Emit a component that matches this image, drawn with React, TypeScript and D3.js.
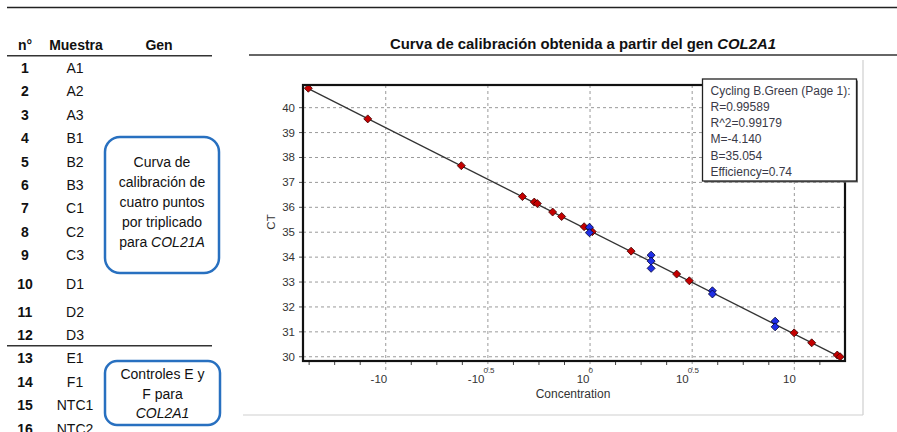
import React from "react";
import * as d3 from "d3";

// ---------- DATA ----------
const tableNumbers = ["1","2","3","4","5","6","7","8","9","10","11","12","13","14","15","16"];
const tableSamples = ["A1","A2","A3","B1","B2","B3","C1","C2","C3","D1","D2","D3","E1","F1","NTC1","NTC2"];

const chartTitle = "Curva de calibración obtenida a partir del gen ";
const chartTitleItalic = "COL2A1";

// standards (red): log10 concentration, CT
const standardLogConc = [-1.379, -1.088, -0.63, -0.331, -0.273, -0.258, -0.183, -0.139, -0.029, 0.011, 0.201, 0.424, 0.486, 0.999, 1.085, 1.21, 1.224];
const standardCT = [40.78, 39.55, 37.67, 36.43, 36.21, 36.15, 35.81, 35.63, 35.22, 35.02, 34.24, 33.32, 33.05, 30.96, 30.56, 30.07, 30.0];

// samples (blue)
const sampleLogConc = [-0.003, -0.003, 0.299, 0.299, 0.299, 0.599, 0.599, 0.906, 0.906];
const sampleCT = [35.2, 34.98, 34.08, 33.84, 33.55, 32.65, 32.52, 31.43, 31.2];

const slopeM = -4.14;
const interceptB = 35.054;

const yTicks = [30, 31, 32, 33, 34, 35, 36, 37, 38, 39, 40];
const xTicks = [-1, -0.5, 0, 0.5, 1];
const xTickBase = ["-10", "-10", "10", "10", "10"];
const xTickExp = ["", "0.5", "0", "0.5", ""];

const legendLines = [
  "Cycling B.Green (Page 1):",
  "R=0.99589",
  "R^2=0.99179",
  "M=-4.140",
  "B=35.054",
  "Efficiency=0.74",
];

// ---------- LAYOUT ----------
const W = 897;
const H = 432;
const plot = { left: 303, right: 845, top: 85, bottom: 361 };
const FONT = "'Liberation Sans', Arial, sans-serif";

const x = d3.scaleLinear().domain([-1.405, 1.248]).range([plot.left, plot.right]);
const y = d3.scaleLinear().domain([29.83, 40.91]).range([plot.bottom, plot.top]);

const rowY = (i: number) => 68 + i * 23.4 + (i >= 10 ? 9.6 : i === 9 ? 5.5 : 0);

function diamond(cx: number, cy: number, r: number) {
  const p = d3.path();
  p.moveTo(cx, cy - r);
  p.lineTo(cx + r, cy);
  p.lineTo(cx, cy + r);
  p.lineTo(cx - r, cy);
  p.closePath();
  return p.toString();
}

export default function App() {
  const minorX = d3.range(-11, 11).map((k) => k * 0.125).filter(
    (v) => v >= -1.405 && v <= 1.248 && !xTicks.some((t) => Math.abs(t - v) < 1e-9)
  );
  const xMin = d3.min(standardLogConc)!;
  const xMax = d3.max(standardLogConc)!;
  const line = d3.line<number>().x((d) => x(d)).y((d) => y(slopeM * d + interceptB));

  const blue = "#2870c0";

  return (
    <svg
      width={W}
      height={H}
      style={{ position: "absolute", left: 0, top: 0, display: "block", background: "#fff" }}
      fontFamily={FONT}
    >
      {/* top rule */}
      <line x1={7} x2={897} y1={7.5} y2={7.5} stroke="#222" strokeWidth={1.5} />

      {/* ---------- LEFT TABLE ---------- */}
      <g fontSize={14} fill="#111">
        <text x={25} y={44.5} textAnchor="middle" dominantBaseline="central" fontWeight="bold">n°</text>
        <text x={76} y={44.5} textAnchor="middle" dominantBaseline="central" fontWeight="bold">Muestra</text>
        <text x={159} y={44.5} textAnchor="middle" dominantBaseline="central" fontWeight="bold">Gen</text>
        <line x1={7} x2={212} y1={55.7} y2={55.7} stroke="#333" strokeWidth={1.5} />
        <line x1={7} x2={212} y1={345.7} y2={345.7} stroke="#333" strokeWidth={1.5} />
        {tableNumbers.map((n, i) => (
          <text key={"n" + i} x={25} y={rowY(i)} textAnchor="middle" dominantBaseline="central" fontWeight="bold">
            {n}
          </text>
        ))}
        {tableSamples.map((s, i) => (
          <text key={"s" + i} x={75} y={rowY(i)} textAnchor="middle" dominantBaseline="central">
            {s}
          </text>
        ))}
        {/* box 1 */}
        <rect x={105} y={137} width={114} height={136} rx={15} ry={15} fill="none" stroke={blue} strokeWidth={2.5} />
        {["Curva de", "calibración de", "cuatro puntos", "por triplicado"].map((t, i) => (
          <text key={"b1" + i} x={162} y={161.7 + i * 20} textAnchor="middle" dominantBaseline="central">{t}</text>
        ))}
        <text x={162} y={241.7} textAnchor="middle" dominantBaseline="central">
          para <tspan fontStyle="italic">COL21A</tspan>
        </text>
        {/* box 2 */}
        <rect x={105} y={361} width={115} height={64} rx={12} ry={12} fill="none" stroke={blue} strokeWidth={2.5} />
        <text x={162.5} y={374.3} textAnchor="middle" dominantBaseline="central">Controles E y</text>
        <text x={162.5} y={394.3} textAnchor="middle" dominantBaseline="central">F para</text>
        <text x={162.5} y={413.3} textAnchor="middle" dominantBaseline="central" fontStyle="italic">COL2A1</text>
      </g>

      {/* ---------- CHART PANEL ---------- */}
      <text x={583} y={44} textAnchor="middle" dominantBaseline="central" fontSize={14} fontWeight="bold" fill="#111"
        textLength={386} lengthAdjust="spacingAndGlyphs">
        {chartTitle}<tspan fontStyle="italic">{chartTitleItalic}</tspan>
      </text>
      <line x1={249} x2={897} y1={55} y2={55} stroke="#333" strokeWidth={1.5} />
      <line x1={863} x2={863} y1={60} y2={415} stroke="#cfcfcf" strokeWidth={1.2} />
      <line x1={243} x2={863} y1={415} y2={415} stroke="#cfcfcf" strokeWidth={1.2} />

      {/* grid */}
      <g stroke="#9a9a9a" strokeWidth={1} strokeDasharray="3,3">
        {yTicks.map((t) => (
          <line key={"gy" + t} x1={plot.left} x2={plot.right} y1={y(t)} y2={y(t)} />
        ))}
        {xTicks.map((t) => (
          <line key={"gx" + t} x1={x(t)} x2={x(t)} y1={plot.top} y2={plot.bottom + 10} />
        ))}
      </g>

      {/* y ticks + labels */}
      <g fontSize={11.5} fill="#333">
        {yTicks.map((t) => (
          <g key={"yt" + t}>
            <line x1={plot.left - 4} x2={plot.left} y1={y(t)} y2={y(t)} stroke="#555" strokeWidth={1} />
            <text x={295} y={y(t)} textAnchor="end" dominantBaseline="central">{t}</text>
          </g>
        ))}
      </g>
      <text transform={`translate(271,222) rotate(-90)`} textAnchor="middle" dominantBaseline="central" fontSize={11.5} fill="#333">CT</text>

      {/* x ticks + labels */}
      <g stroke="#444" strokeWidth={1}>
        {minorX.map((t) => (
          <line key={"mx" + t} x1={x(t)} x2={x(t)} y1={plot.bottom} y2={plot.bottom + 4} />
        ))}
      </g>
      <g fill="#333">
        {xTicks.map((t, i) => {
          const supW = xTickExp[i].length === 0 ? 0 : xTickExp[i].length === 1 ? 4.5 : 11;
          const baseEnd = x(t) + 1.5 - supW * 0.45;
          return (
            <g key={"xt" + t}>
              <text x={baseEnd} y={378.5} textAnchor="end" dominantBaseline="central" fontSize={11.5}>{xTickBase[i]}</text>
              {xTickExp[i] && (
                <text x={baseEnd - 1} y={370.5} textAnchor="start" dominantBaseline="central" fontSize={8}>{xTickExp[i]}</text>
              )}
            </g>
          );
        })}
      </g>
      <text x={573} y={393.5} textAnchor="middle" dominantBaseline="central" fontSize={12} fill="#333">Concentration</text>

      {/* regression line */}
      <path d={line([xMin, xMax]) || ""} fill="none" stroke="#333" strokeWidth={1.3} />

      {/* points */}
      {standardLogConc.map((v, i) => (
        <path key={"sp" + i} d={diamond(x(v), y(standardCT[i]), 4)} fill="#c40000" stroke="#3a0000" strokeWidth={0.8} />
      ))}
      {sampleLogConc.map((v, i) => (
        <path key={"bp" + i} d={diamond(x(v), y(sampleCT[i]), 4)} fill="#1f2ee6" stroke="#000033" strokeWidth={0.8} />
      ))}

      {/* frame */}
      <rect x={plot.left} y={plot.top} width={plot.right - plot.left} height={plot.bottom - plot.top}
        fill="none" stroke="#111" strokeWidth={2.2} />

      {/* legend box */}
      <rect x={704} y={80.5} width={154} height={102} fill="#777" />
      <rect x={702.5} y={79} width={154} height={102} fill="#fff" stroke="#222" strokeWidth={1.3} />
      <g fontSize={12} fill="#3a3a48">
        {legendLines.map((l, i) => (
          <text key={"lg" + i} x={710.5} y={90.7 + i * 16.2} dominantBaseline="central">{l}</text>
        ))}
      </g>
    </svg>
  );
}
